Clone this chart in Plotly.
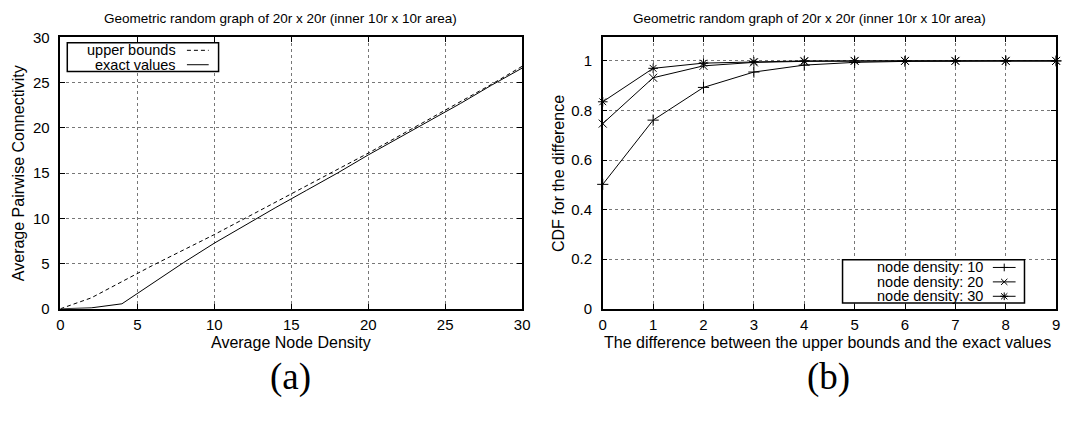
import plotly.graph_objects as go

W, H = 1076, 434

# ---------------- data ----------------
density = [0, 2, 4, 6, 8, 10, 12, 14, 16, 18, 20, 22, 24, 26, 28, 30]
upper_bounds = [0, 1.2, 3.0, 4.8, 6.5, 8.2, 10.0, 11.8, 13.6, 15.4, 17.2, 19.1, 21.0, 22.9, 24.8, 26.8]
exact_values = [0, 0.1, 0.55, 2.8, 5.1, 7.25, 9.25, 11.2, 13.1, 15.0, 17.0, 18.9, 20.8, 22.7, 24.7, 26.6]

diff = [0, 1, 2, 3, 4, 5, 6, 7, 8, 9]
cdf_10 = [0.502, 0.761, 0.893, 0.955, 0.983, 0.994, 0.998, 1.0, 1.0, 1.0]
cdf_20 = [0.747, 0.932, 0.980, 0.994, 0.998, 1.0, 1.0, 1.0, 1.0, 1.0]
cdf_30 = [0.835, 0.970, 0.991, 0.997, 1.0, 1.0, 1.0, 1.0, 1.0, 1.0]

title_text = "Geometric random graph of 20r x 20r (inner 10r x 10r area)"
FONT = "Liberation Sans, Arial, sans-serif"


def px(x):
    return x / W


def py(y):
    return 1 - y / H


fig = go.Figure()

line_style = dict(color="black", width=1)

fig.add_trace(go.Scatter(x=density, y=upper_bounds, mode="lines",
                         line=dict(color="black", width=1, dash="4px,3px"),
                         xaxis="x", yaxis="y", showlegend=False))
fig.add_trace(go.Scatter(x=density, y=exact_values, mode="lines",
                         line=line_style, xaxis="x", yaxis="y", showlegend=False))

for vals, sym in [(cdf_10, "cross-thin-open"), (cdf_20, "x-thin-open"), (cdf_30, "asterisk-open")]:
    fig.add_trace(go.Scatter(x=diff, y=vals, mode="lines+markers",
                             line=line_style,
                             marker=dict(symbol=sym, size=8, color="black",
                                         line=dict(color="black", width=1)),
                             cliponaxis=False,
                             xaxis="x2", yaxis="y2", showlegend=False))

axis_common = dict(
    showline=True, linecolor="black", linewidth=1.5, mirror="ticks",
    ticks="inside", ticklen=5, tickcolor="black", tickwidth=1,
    showgrid=True, gridcolor="#777777", griddash="dot", gridwidth=1,
    zeroline=False, tickfont=dict(family=FONT, size=15, color="black"),
)

ybot, ytop = py(312), py(29.5)

fig.update_layout(
    width=W, height=H,
    margin=dict(l=0, r=0, t=0, b=0),
    paper_bgcolor="white", plot_bgcolor="white",
    xaxis=dict(domain=[px(57), px(524)], range=[0, 30], dtick=5, anchor="y",
               ticklabelstandoff=1, **axis_common),
    yaxis=dict(domain=[ybot, ytop], range=[0, 30], dtick=5, anchor="x",
               ticklabelstandoff=6, **axis_common),
    xaxis2=dict(domain=[px(605.5), px(1064)], range=[0, 9], dtick=1, anchor="y2",
                ticklabelstandoff=1, **axis_common),
    yaxis2=dict(domain=[ybot, ytop], range=[0, 1.095], dtick=0.2, anchor="x2",
                ticklabelstandoff=6, **axis_common),
)

ann = []


def text(x, y, s, size=14, xanchor="center", angle=0, family=FONT):
    ann.append(dict(x=px(x), y=py(y), xref="paper", yref="paper", text=s,
                    showarrow=False, xanchor=xanchor, yanchor="middle",
                    textangle=angle, font=dict(family=family, size=size, color="black")))


text(280, 10, title_text, size=13.5)
text(815, 10, title_text, size=13.5)
text(290, 347, "Average Node Density", size=16)
text(833, 347, "The difference between the upper bounds and the exact values", size=16)
text(14, 171, "Average Pairwise Connectivity", size=16, angle=-90)
text(561, 171, "CDF for the difference", size=16, angle=-90)
text(290, 383, "(a)", size=37, family="Liberation Serif, serif")
text(834, 383, "(b)", size=37, family="Liberation Serif, serif")

shapes = []


def seg(x0, y0, x1, y1, dash="solid", width=1):
    shapes.append(dict(type="line", xref="paper", yref="paper",
                       x0=px(x0), y0=py(y0), x1=px(x1), y1=py(y1),
                       line=dict(color="black", width=width, dash=dash)))


def box(x0, y0, x1, y1):
    shapes.append(dict(type="rect", xref="paper", yref="paper",
                       x0=px(x0), y0=py(y0), x1=px(x1), y1=py(y1),
                       fillcolor="white", line=dict(color="black", width=1.5), layer="above"))


# legend (a)
box(64, 35, 217, 65)
text(176, 43, "upper bounds", size=14.5, xanchor="right")
seg(185, 43, 207, 43, dash="4px,3px")
text(176, 58, "exact values", size=14.5, xanchor="right")
seg(185, 58, 207, 58)

# legend (b)
box(848, 261, 1032, 306)
rows = [(269, "node density: 10", "+"), (284, "node density: 20", "x"), (299, "node density: 30", "*")]
for yy, label, kind in rows:
    text(992, yy, label, size=14.5, xanchor="right")
    seg(1000, yy, 1023, yy)
    cx, r = 1011.5, 4
    if kind in ("+", "*"):
        seg(cx - r, yy, cx + r, yy)
        seg(cx, yy - r, cx, yy + r)
    if kind in ("x", "*"):
        d = r * 0.8
        seg(cx - d, yy - d, cx + d, yy + d)
        seg(cx - d, yy + d, cx + d, yy - d)

fig.update_layout(annotations=ann, shapes=shapes)
fig.write_html("out.html")
